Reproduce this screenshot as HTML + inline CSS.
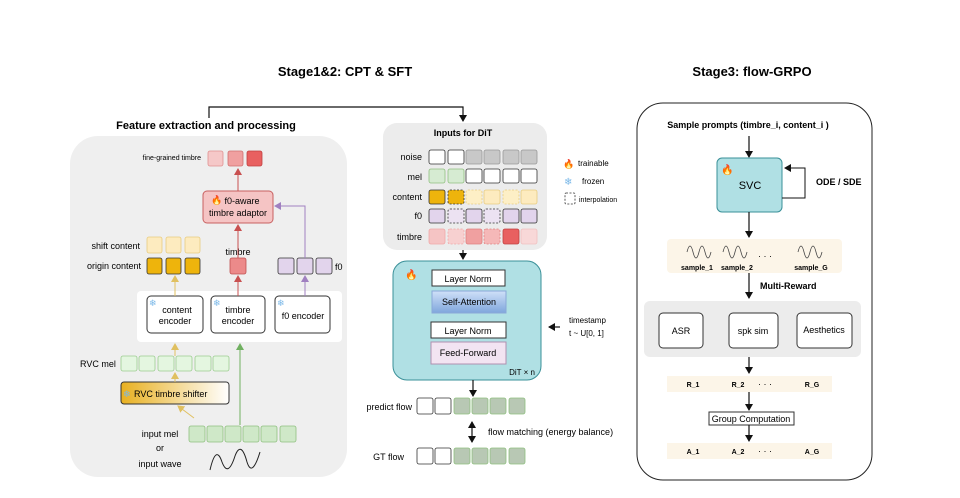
<!DOCTYPE html>
<html><head><meta charset="utf-8"><style>
html,body{margin:0;padding:0;background:#fff;}
svg{display:block;font-family:"Liberation Sans",sans-serif;}
</style></head><body>
<svg width="960" height="498" viewBox="0 0 960 498" xmlns="http://www.w3.org/2000/svg">
<defs>
<marker id="ak" markerWidth="8" markerHeight="8" refX="6" refY="4" orient="auto" markerUnits="userSpaceOnUse"><path d="M0,0 L7,4 L0,8 z" fill="#111"/></marker>
<marker id="ay" markerWidth="8" markerHeight="8" refX="6" refY="4" orient="auto" markerUnits="userSpaceOnUse"><path d="M0,0 L7,4 L0,8 z" fill="#e0c060"/></marker>
<marker id="ar" markerWidth="8" markerHeight="8" refX="6" refY="4" orient="auto" markerUnits="userSpaceOnUse"><path d="M0,0 L7,4 L0,8 z" fill="#c85050"/></marker>
<marker id="ap" markerWidth="8" markerHeight="8" refX="6" refY="4" orient="auto" markerUnits="userSpaceOnUse"><path d="M0,0 L7,4 L0,8 z" fill="#a080c0"/></marker>
<marker id="ag" markerWidth="8" markerHeight="8" refX="6" refY="4" orient="auto" markerUnits="userSpaceOnUse"><path d="M0,0 L7,4 L0,8 z" fill="#70b060"/></marker>
<marker id="aks" markerWidth="8" markerHeight="8" refX="6" refY="4" orient="auto-start-reverse" markerUnits="userSpaceOnUse"><path d="M0,0 L7,4 L0,8 z" fill="#111"/></marker>
<linearGradient id="gold" x1="0" x2="1"><stop offset="0" stop-color="#e8b020"/><stop offset="1" stop-color="#ffffff"/></linearGradient>
<linearGradient id="blue" x1="0" y1="0" x2="0" y2="1"><stop offset="0" stop-color="#cfe0f8"/><stop offset="1" stop-color="#7fa6dc"/></linearGradient>
</defs>

<!-- titles -->
<text x="345" y="76" font-size="13" font-weight="bold" text-anchor="middle">Stage1&amp;2: CPT &amp; SFT</text>
<text x="752" y="76" font-size="13" font-weight="bold" text-anchor="middle">Stage3: flow-GRPO</text>
<polyline points="209,118 209,107 463,107 463,121" fill="none" stroke="#111" stroke-width="1.2" marker-end="url(#ak)"/>
<text x="206" y="129" font-size="11" font-weight="bold" text-anchor="middle">Feature extraction and processing</text>

<!-- left panel -->
<rect x="70" y="136" width="277" height="341" rx="28" fill="#efefef"/>
<text x="201" y="160" font-size="7" text-anchor="end">fine-grained timbre</text>
<rect x="208" y="151" width="15" height="15" rx="2" fill="#f5c8c8" stroke="#e09090" stroke-width="0.8"/>
<rect x="228" y="151" width="15" height="15" rx="2" fill="#f0a0a0" stroke="#d07070" stroke-width="0.8"/>
<rect x="247" y="151" width="15" height="15" rx="2" fill="#e86060" stroke="#c04040" stroke-width="0.8"/>
<rect x="203" y="191" width="70" height="32" rx="4" fill="#f5c4c4" stroke="#c86060" stroke-width="1"/>
<text x="211" y="203" font-size="9">🔥</text>
<text x="242" y="204" font-size="9" text-anchor="middle">f0-aware</text>
<text x="238" y="216" font-size="9" text-anchor="middle">timbre adaptor</text>

<text x="140" y="249" font-size="9" text-anchor="end">shift content</text>
<text x="141" y="269" font-size="9" text-anchor="end">origin content</text>
<g stroke-width="0.8">
<rect x="147" y="237" width="15" height="16" rx="2" fill="#fdebbf" stroke="#e8cc80"/>
<rect x="166" y="237" width="15" height="16" rx="2" fill="#fdebbf" stroke="#e8cc80"/>
<rect x="185" y="237" width="15" height="16" rx="2" fill="#fdebbf" stroke="#e8cc80"/>
<rect x="147" y="258" width="15" height="16" rx="2" fill="#eeb40c" stroke="#333"/>
<rect x="166" y="258" width="15" height="16" rx="2" fill="#eeb40c" stroke="#333"/>
<rect x="185" y="258" width="15" height="16" rx="2" fill="#eeb40c" stroke="#333"/>
<rect x="230" y="258" width="16" height="16" rx="2" fill="#ec8a8a" stroke="#c05050"/>
<rect x="278" y="258" width="16" height="16" rx="2" fill="#e2d4ec" stroke="#333"/>
<rect x="297" y="258" width="16" height="16" rx="2" fill="#e2d4ec" stroke="#333"/>
<rect x="316" y="258" width="16" height="16" rx="2" fill="#e2d4ec" stroke="#333"/>
</g>
<text x="238" y="255" font-size="9" text-anchor="middle">timbre</text>
<text x="335" y="270" font-size="9">f0</text>

<rect x="137" y="291" width="205" height="51" rx="4" fill="#fff"/>
<rect x="147" y="296" width="56" height="37" rx="4" fill="#fff" stroke="#333"/>
<rect x="211" y="296" width="54" height="37" rx="4" fill="#fff" stroke="#333"/>
<rect x="275" y="296" width="55" height="37" rx="4" fill="#fff" stroke="#333"/>
<text x="149" y="306" font-size="9" fill="#7ab8e8">❄</text>
<text x="213" y="306" font-size="9" fill="#7ab8e8">❄</text>
<text x="277" y="306" font-size="9" fill="#7ab8e8">❄</text>
<text x="177" y="313" font-size="9" text-anchor="middle">content</text>
<text x="175" y="324" font-size="9" text-anchor="middle">encoder</text>
<text x="238" y="313" font-size="9" text-anchor="middle">timbre</text>
<text x="238" y="324" font-size="9" text-anchor="middle">encoder</text>
<text x="303" y="319" font-size="9" text-anchor="middle">f0 encoder</text>

<text x="80" y="367" font-size="9">RVC mel</text>
<g fill="#e4f6e0" stroke="#9ccc90" stroke-width="0.8">
<rect x="121" y="356" width="16" height="15" rx="2"/><rect x="139" y="356" width="16" height="15" rx="2"/><rect x="158" y="356" width="16" height="15" rx="2"/><rect x="176" y="356" width="16" height="15" rx="2"/><rect x="195" y="356" width="16" height="15" rx="2"/><rect x="213" y="356" width="16" height="15" rx="2"/>
</g>
<rect x="121" y="382" width="108" height="22" rx="3" fill="url(#gold)" stroke="#333"/>
<text x="123" y="397" font-size="9" fill="#7ab8e8">❄</text>
<text x="134" y="397" font-size="9">RVC timbre shifter</text>

<g fill="#cfe8c8" stroke="#90c080" stroke-width="0.8">
<rect x="189" y="426" width="16" height="16" rx="2"/><rect x="207" y="426" width="16" height="16" rx="2"/><rect x="225" y="426" width="16" height="16" rx="2"/><rect x="243" y="426" width="16" height="16" rx="2"/><rect x="261" y="426" width="16" height="16" rx="2"/><rect x="280" y="426" width="16" height="16" rx="2"/>
</g>
<text x="160" y="437" font-size="9" text-anchor="middle">input mel</text>
<text x="160" y="451" font-size="9" text-anchor="middle">or</text>
<text x="160" y="467" font-size="9" text-anchor="middle">input wave</text>
<path d="M210,470 Q216,444 222,462 Q228,478 235,456 Q241,440 247,462 Q252,478 260,452" fill="none" stroke="#222" stroke-width="1"/>

<!-- left arrows -->
<line x1="194" y1="418" x2="178" y2="406" stroke="#e0c060" stroke-width="1" marker-end="url(#ay)"/>
<line x1="175" y1="382" x2="175" y2="373" stroke="#e0c060" stroke-width="1" marker-end="url(#ay)"/>
<line x1="175" y1="356" x2="175" y2="344" stroke="#e0c060" stroke-width="1" marker-end="url(#ay)"/>
<line x1="175" y1="296" x2="175" y2="276" stroke="#e0c060" stroke-width="1" marker-end="url(#ay)"/>
<line x1="240" y1="425" x2="240" y2="344" stroke="#70b060" stroke-width="1" marker-end="url(#ag)"/>
<line x1="238" y1="296" x2="238" y2="276" stroke="#c85050" stroke-width="1" marker-end="url(#ar)"/>
<line x1="238" y1="258" x2="238" y2="225" stroke="#c85050" stroke-width="1" marker-end="url(#ar)"/>
<line x1="238" y1="191" x2="238" y2="169" stroke="#c85050" stroke-width="1" marker-end="url(#ar)"/>
<line x1="305" y1="296" x2="305" y2="276" stroke="#a080c0" stroke-width="1" marker-end="url(#ap)"/>
<polyline points="305,258 305,206 275,206" fill="none" stroke="#a080c0" stroke-width="1" marker-end="url(#ap)"/>

<!-- middle -->
<rect x="383" y="123" width="164" height="127" rx="14" fill="#ececec"/>
<text x="463" y="136" font-size="9" font-weight="bold" text-anchor="middle">Inputs for DiT</text>
<g font-size="9" text-anchor="end">
<text x="422" y="160">noise</text><text x="422" y="180">mel</text><text x="422" y="200">content</text><text x="422" y="219">f0</text><text x="422" y="240">timbre</text>
</g>
<g stroke-width="0.8">
<rect x="429" y="150" width="16" height="14" rx="2" fill="#fff" stroke="#333"/>
<rect x="448" y="150" width="16" height="14" rx="2" fill="#fff" stroke="#333"/>
<rect x="466" y="150" width="16" height="14" rx="2" fill="#c8c8c8" stroke="#999"/>
<rect x="484" y="150" width="16" height="14" rx="2" fill="#c8c8c8" stroke="#999"/>
<rect x="503" y="150" width="16" height="14" rx="2" fill="#c8c8c8" stroke="#999"/>
<rect x="521" y="150" width="16" height="14" rx="2" fill="#c8c8c8" stroke="#999"/>
<rect x="429" y="169" width="16" height="14" rx="2" fill="#d6ebd2" stroke="#90c080"/>
<rect x="448" y="169" width="16" height="14" rx="2" fill="#d6ebd2" stroke="#90c080"/>
<rect x="466" y="169" width="16" height="14" rx="2" fill="#fff" stroke="#333"/>
<rect x="484" y="169" width="16" height="14" rx="2" fill="#fff" stroke="#333"/>
<rect x="503" y="169" width="16" height="14" rx="2" fill="#fff" stroke="#333"/>
<rect x="521" y="169" width="16" height="14" rx="2" fill="#fff" stroke="#333"/>
<rect x="429" y="190" width="16" height="14" rx="2" fill="#eeb40c" stroke="#333"/>
<rect x="448" y="190" width="16" height="14" rx="2" fill="#eeb40c" stroke="#333" stroke-dasharray="2,1.5"/>
<rect x="466" y="190" width="16" height="14" rx="2" fill="#fdefc6" stroke="#e8cc80" stroke-dasharray="2,1.5"/>
<rect x="484" y="190" width="16" height="14" rx="2" fill="#fdebbf" stroke="#e8cc80"/>
<rect x="503" y="190" width="16" height="14" rx="2" fill="#fdefc6" stroke="#e8cc80" stroke-dasharray="2,1.5"/>
<rect x="521" y="190" width="16" height="14" rx="2" fill="#fdebbf" stroke="#e8cc80"/>
<rect x="429" y="209" width="16" height="14" rx="2" fill="#e2d4ec" stroke="#333"/>
<rect x="448" y="209" width="16" height="14" rx="2" fill="#ece2f2" stroke="#333" stroke-dasharray="2,1.5"/>
<rect x="466" y="209" width="16" height="14" rx="2" fill="#e2d4ec" stroke="#333"/>
<rect x="484" y="209" width="16" height="14" rx="2" fill="#ece2f2" stroke="#333" stroke-dasharray="2,1.5"/>
<rect x="503" y="209" width="16" height="14" rx="2" fill="#e2d4ec" stroke="#333"/>
<rect x="521" y="209" width="16" height="14" rx="2" fill="#e2d4ec" stroke="#333"/>
<rect x="429" y="229" width="16" height="15" rx="2" fill="#f5c4c4" stroke="#f0a8a8"/>
<rect x="448" y="229" width="16" height="15" rx="2" fill="#f7d0d0" stroke="#f0a8a8" stroke-dasharray="2,1.5"/>
<rect x="466" y="229" width="16" height="15" rx="2" fill="#f0a0a0" stroke="#e08080"/>
<rect x="484" y="229" width="16" height="15" rx="2" fill="#f5b8b8" stroke="#e08080" stroke-dasharray="2,1.5"/>
<rect x="503" y="229" width="16" height="15" rx="2" fill="#e86060" stroke="#c04040"/>
<rect x="521" y="229" width="16" height="15" rx="2" fill="#f8d8d8" stroke="#f0c0c0"/>
</g>
<text x="563" y="167" font-size="9">🔥</text><text x="578" y="166" font-size="8">trainable</text>
<text x="564" y="185" font-size="10" fill="#7ab8e8">❄</text><text x="582" y="184" font-size="8">frozen</text>
<rect x="565" y="193" width="10" height="11" rx="1" fill="none" stroke="#333" stroke-dasharray="2,1.5" stroke-width="0.8"/>
<text x="579" y="202" font-size="7">interpolation</text>

<line x1="463" y1="250" x2="463" y2="259" stroke="#111" stroke-width="1.2" marker-end="url(#ak)"/>
<rect x="393" y="261" width="148" height="119" rx="14" fill="#b0e0e4" stroke="#3a9098" stroke-width="1"/>
<text x="405" y="278" font-size="10">🔥</text>
<rect x="432" y="270" width="73" height="16" fill="#fff" stroke="#333"/>
<text x="468" y="282" font-size="9" text-anchor="middle">Layer Norm</text>
<rect x="432" y="291" width="74" height="22" fill="url(#blue)" stroke="#8aa8d8"/>
<text x="469" y="305" font-size="9" text-anchor="middle">Self-Attention</text>
<rect x="431" y="322" width="75" height="16" fill="#fff" stroke="#333"/>
<text x="468" y="334" font-size="9" text-anchor="middle">Layer Norm</text>
<rect x="431" y="342" width="75" height="22" fill="#f2e4f2" stroke="#b090b0"/>
<text x="468" y="356" font-size="9" text-anchor="middle">Feed-Forward</text>
<text x="535" y="375" font-size="8" text-anchor="end">DiT × n</text>
<line x1="560" y1="327" x2="549" y2="327" stroke="#111" stroke-width="1.2" marker-end="url(#ak)"/>
<text x="569" y="323" font-size="8">timestamp</text>
<text x="569" y="336" font-size="8">t ~ U[0, 1]</text>

<line x1="473" y1="380" x2="473" y2="396" stroke="#111" stroke-width="1.2" marker-end="url(#ak)"/>
<text x="412" y="410" font-size="9" text-anchor="end">predict flow</text>
<text x="404" y="460" font-size="9" text-anchor="end">GT flow</text>
<g stroke-width="0.8">
<rect x="417" y="398" width="16" height="16" rx="2" fill="#fff" stroke="#333"/>
<rect x="435" y="398" width="16" height="16" rx="2" fill="#fff" stroke="#333"/>
<rect x="454" y="398" width="16" height="16" rx="2" fill="#b8c8b4" stroke="#90c080"/>
<rect x="472" y="398" width="16" height="16" rx="2" fill="#b8c8b4" stroke="#90c080"/>
<rect x="490" y="398" width="16" height="16" rx="2" fill="#b8c8b4" stroke="#90c080"/>
<rect x="509" y="398" width="16" height="16" rx="2" fill="#b8c8b4" stroke="#90c080"/>
<rect x="417" y="448" width="16" height="16" rx="2" fill="#fff" stroke="#333"/>
<rect x="435" y="448" width="16" height="16" rx="2" fill="#fff" stroke="#333"/>
<rect x="454" y="448" width="16" height="16" rx="2" fill="#b8c8b4" stroke="#90c080"/>
<rect x="472" y="448" width="16" height="16" rx="2" fill="#b8c8b4" stroke="#90c080"/>
<rect x="490" y="448" width="16" height="16" rx="2" fill="#b8c8b4" stroke="#90c080"/>
<rect x="509" y="448" width="16" height="16" rx="2" fill="#b8c8b4" stroke="#90c080"/>
</g>
<line x1="472" y1="422" x2="472" y2="442" stroke="#111" stroke-width="1.2" marker-start="url(#aks)" marker-end="url(#aks)"/>
<text x="488" y="435" font-size="9">flow matching (energy balance)</text>

<!-- right panel -->
<rect x="637" y="103" width="235" height="377" rx="26" fill="#fff" stroke="#222" stroke-width="1"/>
<text x="748" y="128" font-size="9" font-weight="bold" text-anchor="middle">Sample prompts (timbre_i, content_i )</text>
<line x1="749" y1="136" x2="749" y2="157" stroke="#111" stroke-width="1.2" marker-end="url(#ak)"/>
<rect x="717" y="158" width="65" height="54" rx="5" fill="#b0e0e4" stroke="#3a9098"/>
<text x="721" y="173" font-size="10">🔥</text>
<text x="750" y="189" font-size="11" text-anchor="middle">SVC</text>
<polyline points="782,198 805,198 805,168 785,168" fill="none" stroke="#111" stroke-width="1" marker-end="url(#ak)"/>
<text x="816" y="185" font-size="9" font-weight="bold">ODE / SDE</text>
<line x1="749" y1="212" x2="749" y2="237" stroke="#111" stroke-width="1.2" marker-end="url(#ak)"/>
<rect x="667" y="239" width="175" height="34" rx="4" fill="#fcf5e8"/>
<g fill="none" stroke="#444" stroke-width="0.8">
<path d="M687,252 Q690,240 693,252 Q696,264 699,252 Q702,240 705,252 Q708,264 711,252"/>
<path d="M723,252 Q726,240 729,252 Q732,264 735,252 Q738,240 741,252 Q744,264 747,252"/>
<path d="M798,252 Q801,240 804,252 Q807,264 810,252 Q813,240 816,252 Q819,264 822,252"/>
</g>
<g font-size="7" font-weight="bold" text-anchor="middle">
<text x="697" y="270">sample_1</text><text x="737" y="270">sample_2</text><text x="811" y="270">sample_G</text>
<text x="765" y="259" font-size="9" font-weight="normal">· · ·</text>
</g>
<line x1="749" y1="273" x2="749" y2="298" stroke="#111" stroke-width="1.2" marker-end="url(#ak)"/>
<text x="760" y="289" font-size="9" font-weight="bold">Multi-Reward</text>
<rect x="644" y="301" width="217" height="56" rx="6" fill="#ececec"/>
<rect x="659" y="313" width="44" height="35" rx="4" fill="#fff" stroke="#333"/>
<rect x="729" y="313" width="49" height="35" rx="4" fill="#fff" stroke="#333"/>
<rect x="797" y="313" width="55" height="35" rx="4" fill="#fff" stroke="#333"/>
<g font-size="9" text-anchor="middle">
<text x="681" y="334">ASR</text><text x="753" y="334">spk sim</text><text x="824" y="333">Aesthetics</text>
</g>
<line x1="749" y1="357" x2="749" y2="373" stroke="#111" stroke-width="1.2" marker-end="url(#ak)"/>
<rect x="667" y="376" width="165" height="16" fill="#fcf5e8"/>
<g font-size="7" font-weight="bold" text-anchor="middle">
<text x="693" y="387">R_1</text><text x="738" y="387">R_2</text><text x="765" y="387" font-weight="normal" font-size="9">· · ·</text><text x="812" y="387">R_G</text>
</g>
<line x1="749" y1="392" x2="749" y2="410" stroke="#111" stroke-width="1.2" marker-end="url(#ak)"/>
<rect x="709" y="412" width="85" height="13" fill="#fff" stroke="#333"/>
<text x="751" y="422" font-size="9" text-anchor="middle">Group Computation</text>
<line x1="749" y1="425" x2="749" y2="441" stroke="#111" stroke-width="1.2" marker-end="url(#ak)"/>
<rect x="667" y="443" width="165" height="16" fill="#fcf5e8"/>
<g font-size="7" font-weight="bold" text-anchor="middle">
<text x="693" y="454">A_1</text><text x="738" y="454">A_2</text><text x="765" y="454" font-weight="normal" font-size="9">· · ·</text><text x="812" y="454">A_G</text>
</g>
</svg>
</body></html>
